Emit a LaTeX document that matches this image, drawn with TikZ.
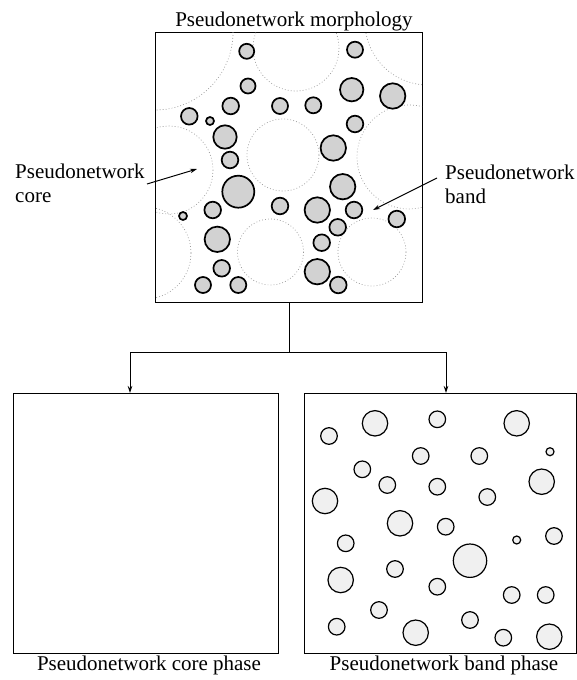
\documentclass[tikz,border=0pt]{standalone}
\usepackage{fontspec}
\setmainfont{Liberation Serif}
\usetikzlibrary{arrows.meta}
\tikzset{
  panel/.style={draw, line width=0.9pt, inner sep=0pt, anchor=north west},
  caption/.style={font=\fontsize{21}{24}\selectfont, inner sep=0pt},
  particle/.style={draw, line width=1.7pt, fill=gray!35},
  sparticle/.style={draw, line width=1.2pt, fill=gray!12},
  corezone/.style={draw=gray!80, line width=0.7pt, dash pattern=on 0.8pt off 2.2pt},
  link/.style={line width=0.9pt},
  pointer/.style={line width=1pt, -{Stealth[length=7pt,width=4.5pt]}},
}
\begin{document}
\begin{tikzpicture}[x=1pt, y=-1pt]
\useasboundingbox (0,0) rectangle (577,680);

% panels
\node[panel, minimum width=267pt, minimum height=270pt] (morph) at (155,32) {};
\node[panel, minimum width=265pt, minimum height=260pt] (corephase) at (13,393) {};
\node[panel, minimum width=272pt, minimum height=260pt] (bandphase) at (304,393) {};

% captions
\node[caption, anchor=base] (morphtitle) at (294,27) {Pseudonetwork morphology};
\node[caption, anchor=base] (coretitle) at (149,670) {Pseudonetwork core phase};
\node[caption, anchor=base] (bandtitle) at (444,670) {Pseudonetwork band phase};
\node[caption, anchor=base west, align=left] (corelabel) at (15,202) {Pseudonetwork\\core};
\node[caption, anchor=base west, align=left] (bandlabel) at (445,203) {Pseudonetwork\\band};

% dotted core domains, clipped to the morphology panel
\begin{scope}
  \clip (155,32) rectangle (422,302);
  \foreach \cx/\cy/\r in {155/32/78, 296/48/43, 428/22/63, 283/155/36,
                          169/170/44, 409/157/52, 145/253/46, 270.5/252/33, 372/252/34}
    \draw[corezone] (\cx,\cy) circle[radius=\r];
\end{scope}

% particles in the band
\foreach \cx/\cy/\r in {246.7/51.3/7.5, 355/49.7/8, 248/86/7.5, 351.7/89.7/11.7,
    392.7/96/12.7, 230.7/106/8.3, 280/106/8, 313.3/105.3/8, 189.3/116.3/8.3,
    210/121/4, 225/137/11.7, 355/124/8.3, 333.3/148/12.7, 230/160/8.3,
    238.3/191.7/16, 212.7/210/8.3, 280/206/8.3, 342.7/186.7/12.7, 317.3/210/12.7,
    354/210/8.3, 337.7/227.3/8.3, 217.3/239.3/12.7, 321.7/242.7/8.3,
    221.7/268.3/8.3, 317.3/271.7/12.7, 203/285/8, 238.3/285/8, 338.3/285/8.3,
    183/216/4, 396.8/219/8.3}
  \draw[particle] (\cx,\cy) circle[radius=\r];

% separated band phase
\foreach \cx/\cy/\r in {329/436/8.3, 375/423.3/12.7, 437.3/419.3/8.3, 516.7/423.3/12.7,
    550/451.7/4, 420.7/456/8.3, 479.3/456/8.3, 362.3/469.3/8.3, 387.3/485/8.3,
    437.3/486.7/8.3, 541.7/481.7/12.7, 325/501/12.7, 487.3/497/8.3,
    400/523.3/12.7, 445.7/526.7/8.3, 345.7/543.3/8.3, 516.7/540/4, 554/536/8.3,
    470/560.7/16.7, 395/569/8.3, 340.7/580/12.7, 437.3/586.7/8.3, 511.7/595/8.3,
    545.7/595/8.3, 379/610/8.3, 470/620/8.3, 336.7/626.7/8.3, 415.7/632.7/12.7,
    503.3/637.7/8.3, 549.3/636.7/12.7}
  \draw[sparticle] (\cx,\cy) circle[radius=\r];

% splitting connector
\coordinate (split) at (morph.south |- 0,352);
\coordinate (toleft) at (130,352);
\coordinate (toright) at (446,352);
\draw[link] (morph.south) -- (split);
\draw[link] (toleft) -- (toright);
\draw[pointer, line width=0.9pt] (toleft) -- (toleft |- corephase.north);
\draw[pointer, line width=0.9pt] (toright) -- (toright |- bandphase.north);

% label pointers
\coordinate (corefoot) at (147,184);
\coordinate (coretip) at (197,169);
\coordinate (bandfoot) at (437,178);
\coordinate (bandtip) at (373,210);
\draw[pointer] (corefoot) -- (coretip);
\draw[pointer] (bandfoot) -- (bandtip);
\end{tikzpicture}
\end{document}
